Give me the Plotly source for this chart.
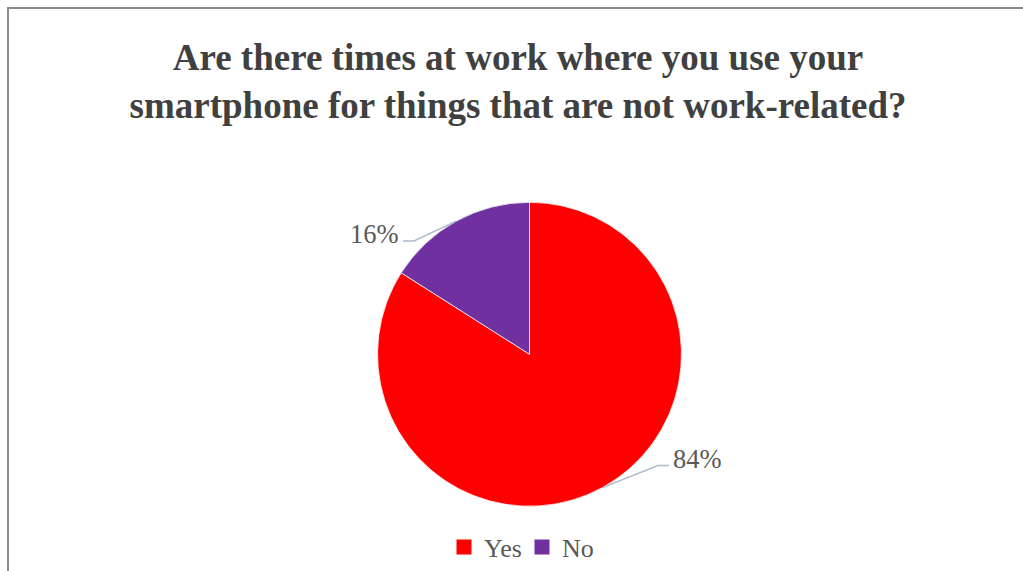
import math
import plotly.graph_objects as go

# Survey answers
answers = ["Yes", "No"]
shares = [84, 16]
slice_colors = ["#FF0000", "#7030A0"]

title_lines = [
    "Are there times at work where you use your",
    "smartphone for things that are not work-related?",
]

W, H = 1023, 571
SERIF = "'Times New Roman', 'Liberation Serif', Times, serif"

# Pie geometry in pixels (centre and radius)
cx, cy, r = 529.5, 355.5, 152.5

# Label elbow offsets relative to the slice's edge midpoint (dx, dy, horizontal run)
label_offsets = {"Yes": (55, -22, 11), "No": (-42, 20, -11)}


def px(x):
    return x / W


def py(y):
    return 1 - y / H


fig = go.Figure(
    go.Pie(
        labels=answers,
        values=shares,
        sort=False,
        direction="clockwise",
        rotation=0,
        marker=dict(colors=slice_colors, line=dict(color="#FFFFFF", width=0.75)),
        textinfo="none",
        hoverinfo="label+percent",
        showlegend=False,
        domain=dict(x=[px(cx - r), px(cx + r)], y=[py(cy + r), py(cy - r)]),
    )
)

# Legend entries with square swatches matching the slice colours
for name, col in zip(answers, slice_colors):
    fig.add_trace(
        go.Scatter(
            x=[None],
            y=[None],
            mode="markers",
            name=name,
            marker=dict(symbol="square", size=15, color=col),
            hoverinfo="skip",
        )
    )

# Leader lines and percentage labels placed at each slice's mid-angle
total = sum(shares)
start = 0.0
for name, val in zip(answers, shares):
    frac = val / total
    mid = (start + frac / 2) * 2 * math.pi  # clockwise from 12 o'clock
    start += frac
    ex = cx + r * math.sin(mid)
    ey = cy - r * math.cos(mid)
    dx, dy, run = label_offsets[name]
    bx, by = ex + dx, ey + dy
    tx = bx + run
    fig.add_shape(
        type="path",
        xref="paper",
        yref="paper",
        path=f"M{px(ex)},{py(ey)} L{px(bx)},{py(by)} L{px(tx)},{py(by)}",
        line=dict(color="#AEB9C9", width=1.5),
    )
    fig.add_annotation(
        x=px(tx + (2 if run > 0 else -2)),
        y=py(by - 7),
        xref="paper",
        yref="paper",
        text=f"{round(frac * 100)}%",
        showarrow=False,
        xanchor="left" if run > 0 else "right",
        yanchor="middle",
        font=dict(family=SERIF, size=26.5, color="#595959"),
    )

# Chart frame
fig.add_shape(
    type="rect",
    xref="paper",
    yref="paper",
    x0=px(8),
    x1=px(W + 20),
    y0=py(H + 20),
    y1=py(8),
    line=dict(color="#8C8C8C", width=2),
    fillcolor="rgba(0,0,0,0)",
)

fig.update_layout(
    width=W,
    height=H,
    margin=dict(l=0, r=0, t=0, b=0),
    paper_bgcolor="#FFFFFF",
    plot_bgcolor="#FFFFFF",
    xaxis=dict(visible=False),
    yaxis=dict(visible=False),
    title=dict(
        text="<b>" + "<br>".join(title_lines) + "</b>",
        x=px(518),
        xanchor="center",
        xref="paper",
        y=py(70),
        yref="container",
        yanchor="middle",
        font=dict(family=SERIF, size=37, color="#404040"),
    ),
    legend=dict(
        orientation="h",
        x=px(444),
        xanchor="left",
        y=py(549),
        yanchor="middle",
        font=dict(family=SERIF, size=26, color="#595959"),
        bgcolor="rgba(0,0,0,0)",
        entrywidth=33,
        entrywidthmode="pixels",
        itemclick=False,
        itemdoubleclick=False,
    ),
    showlegend=True,
)

fig.write_html("out.html")
